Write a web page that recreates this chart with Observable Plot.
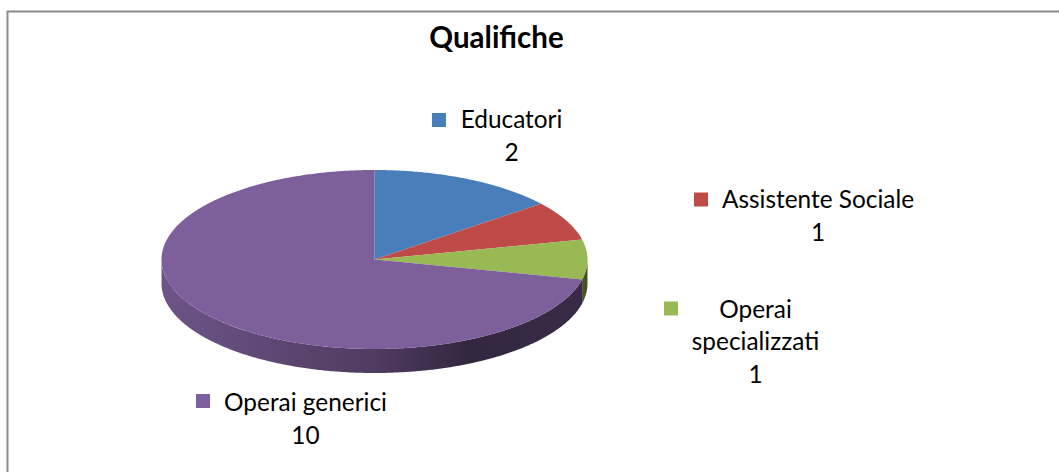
<!DOCTYPE html>
<html><head><meta charset="utf-8">
<script src="https://cdn.jsdelivr.net/npm/d3@7"></script>
<script src="https://cdn.jsdelivr.net/npm/@observablehq/plot@0.6"></script>
<style>body{margin:0;background:#fff}</style>
</head><body><div id="chart"></div>
<script>
// ---- data ----
const title = "Qualifiche";
const categories = ["Educatori", "Assistente Sociale", "Operai specializzati", "Operai generici"];
const values = [2, 1, 1, 10];
const labelText = ["Educatori", "Assistente Sociale", "Operai\nspecializzati", "Operai generici"];

// ---- style / layout ----
const colors = ["#4a7ebb", "#be4b48", "#98b954", "#7d5f9b"];
const W = 1059, H = 472;
const cx = 374, cy = 259, rx = 213, ry = 89.5, depthPx = 24;
const FONT = "Lato, 'Open Sans', sans-serif";
const labelSize = 24.4, titleSize = 29.5, lineGap = 32.5;
// label anchors in pixels: centre x of text, baseline of last line, centre of legend key
const labelLayout = [
  {cx: 511, base: 160, kx: 438.5, ky: 119.5},
  {cx: 817.5, base: 240, kx: 700.5, ky: 199},
  {cx: 755, base: 382, kx: 670.5, ky: 308},
  {cx: 305, base: 443, kx: 202.5, ky: 400.5}
];
const titleLayout = {cx: 496, base: 47};

const ux = px => (px - cx) / rx;
const uy = py => (cy - py) / ry;
const depth = depthPx / ry;

// ---- geometry from data ----
const arcs = d3.pie().sort(null).value(d => d)(values);
const step = Math.PI / 360;
function angles(a0, a1) {
  const n = Math.max(2, Math.ceil((a1 - a0) / step));
  return d3.range(n + 1).map(i => a0 + (a1 - a0) * i / n);
}
const topFaces = [];
const sideFaces = [];
arcs.forEach((a, i) => {
  const k = categories[i];
  topFaces.push({k, x: 0, y: 0});
  for (const t of angles(a.startAngle, a.endAngle)) topFaces.push({k, x: Math.sin(t), y: Math.cos(t)});
  const s = Math.max(a.startAngle, Math.PI / 2), e = Math.min(a.endAngle, 3 * Math.PI / 2);
  if (e > s) {
    const ts = angles(s, e);
    const pts = [];
    for (const t of ts) pts.push({k, x: Math.sin(t), y: Math.cos(t)});
    for (const t of ts.slice().reverse()) pts.push({k, x: Math.sin(t), y: Math.cos(t) - depth});
    sideFaces.push({i, pts});
  }
});

const labels = categories.map((c, i) => ({k: c, v: values[i], text: labelText[i] + "\n" + values[i], ...labelLayout[i]}));

const marks = [
  Plot.frame({stroke: "#8a8a8a", strokeWidth: 2}),
  ...sideFaces.map(s => Plot.line(s.pts, {x: "x", y: "y", stroke: "none", fill: `url(#side${s.i})`})),
  Plot.line(topFaces, {x: "x", y: "y", z: "k", fill: "k", stroke: "none"}),
  Plot.dot(labels, {x: d => ux(d.kx), y: d => uy(d.ky), symbol: "square", r: 7.9, fill: "k", stroke: "none"}),
  Plot.text(labels, {x: d => ux(d.cx), y: d => uy(d.base), text: "text", lineAnchor: "bottom", textAnchor: "middle",
    fontSize: labelSize, lineHeight: lineGap / labelSize, fill: "#000"}),
  Plot.text([title], {x: ux(titleLayout.cx), y: uy(titleLayout.base), text: d => d, lineAnchor: "bottom", textAnchor: "middle",
    fontSize: titleSize, fontWeight: "bold", fill: "#000"})
];

const plot = Plot.plot({
  width: W, height: H,
  marginLeft: 7, marginTop: 11, marginRight: -10, marginBottom: -10,
  x: {domain: [-1, 1], range: [cx - rx, cx + rx], axis: null},
  y: {domain: [-1, 1], range: [cy + ry, cy - ry], axis: null},
  color: {domain: categories, range: colors},
  style: {fontFamily: FONT, background: "#fff", overflow: "hidden"},
  marks
});

const svg = d3.select(plot);
const defs = svg.insert("defs", ":first-child");
sideFaces.forEach(s => {
  const g = defs.append("linearGradient").attr("id", `side${s.i}`)
    .attr("gradientUnits", "userSpaceOnUse").attr("x1", cx - rx).attr("x2", cx + rx).attr("y1", 0).attr("y2", 0);
  [[0, 0.35], [0.5, 1.3], [0.72, 2.5], [1, 2.2]].forEach(([o, k]) =>
    g.append("stop").attr("offset", o).attr("stop-color", d3.color(colors[s.i]).darker(k).formatHex()));
});
document.getElementById("chart").append(plot);
</script></body></html>
